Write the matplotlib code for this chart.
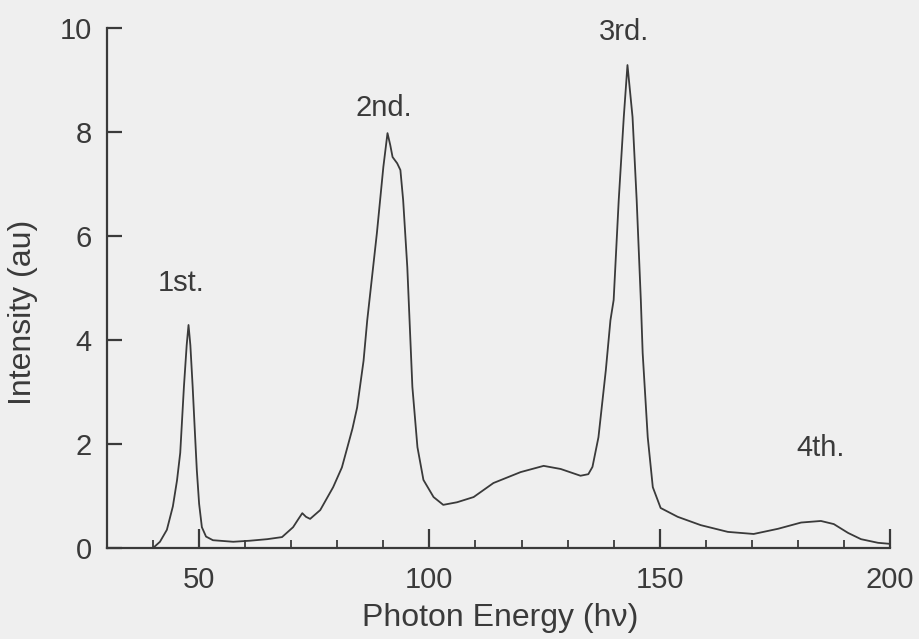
import matplotlib
matplotlib.use("Agg")
import matplotlib.pyplot as plt
from matplotlib.ticker import MultipleLocator

# spectrum
energy = [40.0, 41.5, 43.0, 44.3, 45.2, 45.9, 46.7, 47.3, 47.7, 48.1, 48.6, 49.1,
          49.5, 50.0, 50.6, 51.5, 53.0, 57.4, 61.0, 64.8, 68.0, 70.4, 71.5, 72.4,
          73.2, 74.1, 76.3, 79.1, 81.0, 82.2, 83.3, 84.3, 85.7, 86.5, 88.6, 90.0,
          90.9, 91.5, 92.0, 93.0, 93.7, 94.3, 95.2, 96.3, 97.4, 98.7, 100.9, 103.0,
          106.0, 109.6, 113.9, 119.8, 124.8, 128.5, 132.8, 134.5, 135.4, 136.7,
          138.3, 139.3, 140.0, 141.1, 142.2, 143.0, 144.1, 145.0, 145.9, 146.3,
          147.4, 148.5, 150.2, 153.9, 158.9, 164.8, 170.4, 175.7, 180.7, 185.0,
          187.8, 190.9, 193.7, 197.4, 200.0]
intensity = [0.0, 0.12, 0.35, 0.8, 1.3, 1.83, 3.1, 3.9, 4.29, 3.9, 3.1, 2.2,
             1.5, 0.85, 0.4, 0.22, 0.15, 0.12, 0.14, 0.17, 0.21, 0.40, 0.55, 0.67,
             0.60, 0.56, 0.73, 1.17, 1.55, 1.94, 2.3, 2.7, 3.6, 4.38, 6.06, 7.33,
             7.98, 7.75, 7.52, 7.4, 7.27, 6.69, 5.4, 3.1, 1.94, 1.31, 0.98, 0.83,
             0.88, 0.98, 1.25, 1.46, 1.58, 1.52, 1.39, 1.42, 1.56, 2.13,
             3.42, 4.38, 4.77, 6.69, 8.29, 9.29, 8.29, 6.69, 4.77, 3.75,
             2.13, 1.17, 0.77, 0.60, 0.44, 0.31, 0.27, 0.37, 0.49, 0.52,
             0.46, 0.29, 0.17, 0.10, 0.08]

orders = ["1st.", "2nd.", "3rd.", "4th."]
order_x = [46.0, 90.0, 142.2, 185.0]
order_y = [5.1, 8.46, 9.92, 1.92]

plt.rcParams['font.family'] = ['Liberation Sans', 'DejaVu Sans']

bg = "#efefef"
ink = "#3a3a3a"

fig = plt.figure(figsize=(9.2, 6.39), dpi=100, facecolor=bg)
ax = fig.add_axes([0.1163, 0.1424, 0.8511, 0.8136], facecolor=bg)

ax.plot(energy, intensity, color=ink, lw=1.3)

for lab, x, y in zip(orders, order_x, order_y):
    ax.text(x, y, lab, ha="center", va="center", fontsize=21, color=ink)

ax.set_xlim(30, 200)
ax.set_ylim(0, 10)
ax.xaxis.set_major_locator(MultipleLocator(50))
ax.xaxis.set_minor_locator(MultipleLocator(10))
ax.yaxis.set_major_locator(MultipleLocator(2))

for s in ["top", "right"]:
    ax.spines[s].set_visible(False)
for s in ["left", "bottom"]:
    ax.spines[s].set_color(ink)
    ax.spines[s].set_linewidth(1.6)

ax.tick_params(axis="x", which="major", direction="in", length=14, width=1.6,
               color=ink, labelsize=21, labelcolor=ink, pad=13)
ax.tick_params(axis="x", which="minor", direction="in", length=6, width=1.3, color=ink)
ax.tick_params(axis="y", which="major", direction="in", length=11, width=1.6,
               color=ink, labelsize=21, labelcolor=ink, pad=11)

ax.set_xlabel("Photon Energy (h\u03bd)", fontsize=23, color=ink)
ax.set_ylabel("Intensity (au)", fontsize=23, color=ink)
ax.xaxis.set_label_coords(0.502, -0.105)
ax.yaxis.set_label_coords(-0.088, 0.454)

fig.savefig("out.png", dpi=100, facecolor=bg)
